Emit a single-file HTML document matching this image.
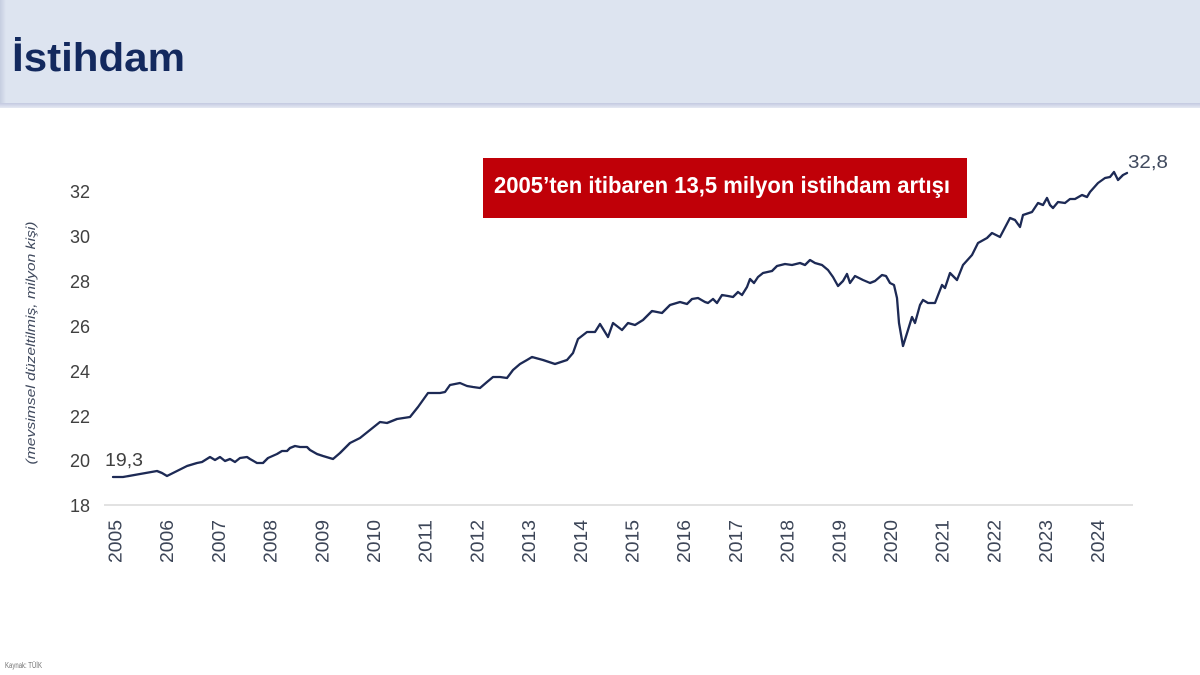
<!DOCTYPE html>
<html>
<head>
<meta charset="utf-8">
<style>
html,body{margin:0;padding:0;background:#fff;}
svg{display:block;}
</style>
</head>
<body>
<svg width="1200" height="675" viewBox="0 0 1200 675" xmlns="http://www.w3.org/2000/svg">
  <defs>
    <linearGradient id="hb" x1="0" y1="0" x2="0" y2="1">
      <stop offset="0" stop-color="#c2c9e0"/>
      <stop offset="1" stop-color="#e6e9f3"/>
    </linearGradient>
    <linearGradient id="lb" x1="0" y1="0" x2="1" y2="0">
      <stop offset="0" stop-color="#c5cde0"/>
      <stop offset="1" stop-color="#dde4f0"/>
    </linearGradient>
  </defs>
  <rect x="0" y="0" width="1200" height="675" fill="#ffffff"/>
  <!-- header -->
  <rect x="0" y="0" width="1200" height="104" fill="#dde4f0"/>
  <rect x="0" y="0" width="6" height="104" fill="url(#lb)"/>
  <rect x="0" y="103" width="1200" height="5" fill="url(#hb)"/>
  <text x="12" y="71" font-family="Liberation Sans, sans-serif" font-weight="bold" font-size="40" fill="#13295e" textLength="173" lengthAdjust="spacingAndGlyphs">İstihdam</text>

  <!-- y axis title -->
  <text transform="translate(35,343) rotate(-90)" text-anchor="middle" font-family="Liberation Sans, sans-serif" font-style="italic" font-size="12.5" fill="#404a5e" textLength="243" lengthAdjust="spacingAndGlyphs">(mevsimsel düzeltilmiş, milyon kişi)</text>

  <!-- y tick labels -->
  <g font-family="Liberation Sans, sans-serif" font-size="18" fill="#404040" text-anchor="end">
    <text x="90" y="198">32</text>
    <text x="90" y="243">30</text>
    <text x="90" y="288">28</text>
    <text x="90" y="333">26</text>
    <text x="90" y="378">24</text>
    <text x="90" y="423">22</text>
    <text x="90" y="467">20</text>
    <text x="90" y="512">18</text>
  </g>

  <!-- x axis line -->
  <line x1="104" y1="505" x2="1133" y2="505" stroke="#d9d9d9" stroke-width="1.5"/>

  <!-- x tick labels -->
  <g font-family="Liberation Sans, sans-serif" font-size="18" fill="#3d4658">
    <text transform="translate(121.5,563) rotate(-90)" textLength="43" lengthAdjust="spacingAndGlyphs">2005</text>
    <text transform="translate(173.2,563) rotate(-90)" textLength="43" lengthAdjust="spacingAndGlyphs">2006</text>
    <text transform="translate(224.9,563) rotate(-90)" textLength="43" lengthAdjust="spacingAndGlyphs">2007</text>
    <text transform="translate(276.6,563) rotate(-90)" textLength="43" lengthAdjust="spacingAndGlyphs">2008</text>
    <text transform="translate(328.3,563) rotate(-90)" textLength="43" lengthAdjust="spacingAndGlyphs">2009</text>
    <text transform="translate(380.0,563) rotate(-90)" textLength="43" lengthAdjust="spacingAndGlyphs">2010</text>
    <text transform="translate(431.7,563) rotate(-90)" textLength="43" lengthAdjust="spacingAndGlyphs">2011</text>
    <text transform="translate(483.4,563) rotate(-90)" textLength="43" lengthAdjust="spacingAndGlyphs">2012</text>
    <text transform="translate(535.1,563) rotate(-90)" textLength="43" lengthAdjust="spacingAndGlyphs">2013</text>
    <text transform="translate(586.8,563) rotate(-90)" textLength="43" lengthAdjust="spacingAndGlyphs">2014</text>
    <text transform="translate(638.5,563) rotate(-90)" textLength="43" lengthAdjust="spacingAndGlyphs">2015</text>
    <text transform="translate(690.2,563) rotate(-90)" textLength="43" lengthAdjust="spacingAndGlyphs">2016</text>
    <text transform="translate(741.9,563) rotate(-90)" textLength="43" lengthAdjust="spacingAndGlyphs">2017</text>
    <text transform="translate(793.6,563) rotate(-90)" textLength="43" lengthAdjust="spacingAndGlyphs">2018</text>
    <text transform="translate(845.3,563) rotate(-90)" textLength="43" lengthAdjust="spacingAndGlyphs">2019</text>
    <text transform="translate(897.0,563) rotate(-90)" textLength="43" lengthAdjust="spacingAndGlyphs">2020</text>
    <text transform="translate(948.7,563) rotate(-90)" textLength="43" lengthAdjust="spacingAndGlyphs">2021</text>
    <text transform="translate(1000.4,563) rotate(-90)" textLength="43" lengthAdjust="spacingAndGlyphs">2022</text>
    <text transform="translate(1052.1,563) rotate(-90)" textLength="43" lengthAdjust="spacingAndGlyphs">2023</text>
    <text transform="translate(1103.8,563) rotate(-90)" textLength="43" lengthAdjust="spacingAndGlyphs">2024</text>
  </g>

  <!-- series -->
  <polyline fill="none" stroke="#1d2a55" stroke-width="2.3" stroke-linejoin="round" stroke-linecap="round"
    points="113,477 123,477 140,474 157,471 162,473 167,476 177,471 187,466 197,463 202,462 210,457 215,460 220,457 225,461 230,459 235,462 240,458 247,457 250,459 257,463 263,463 268,458 277,454 282,451 287,451 290,448 295,446 300,447 307,447 310,450 317,454 323,456 333,459 340,453 350,443 360,438 370,430 380,422 387,423 397,419 410,417 418,407 428,393 440,393 445,392 450,385 460,383 467,386 473,387 480,388 487,382 493,377 500,377 507,378 513,370 520,364 527,360 532,357 543,360 555,364 567,360 573,353 578,339 587,332 595,332 600,324 608,337 613,323 622,330 628,323 635,325 643,320 652,311 662,313 670,305 680,302 687,304 692,299 698,298 705,302 708,303 713,299 717,303 722,295 728,296 733,297 738,292 742,295 747,287 750,279 754,283 758,277 763,273 772,271 777,266 785,264 792,265 800,263 805,265 810,260 815,263 822,265 828,270 833,277 838,286 843,281 847,274 850,283 855,276 863,280 870,283 875,281 882,275 886,276 890,283 894,285 897,298 899,323 903,346 908,330 912,317 915,323 920,305 923,300 928,303 935,303 942,285 945,288 950,273 957,280 963,265 972,255 978,243 987,238 992,233 1000,237 1010,218 1015,220 1020,227 1023,215 1032,212 1038,203 1043,205 1047,198 1050,205 1053,208 1058,202 1065,203 1070,199 1075,199 1082,195 1087,197 1090,192 1098,183 1105,178 1110,177 1114,172 1118,180 1123,175 1127,173"/>

  <!-- data labels -->
  <text x="105" y="466" font-family="Liberation Sans, sans-serif" font-size="18" fill="#404040" textLength="38" lengthAdjust="spacingAndGlyphs">19,3</text>
  <text x="1128" y="168" font-family="Liberation Sans, sans-serif" font-size="18" fill="#404a5e" textLength="40" lengthAdjust="spacingAndGlyphs">32,8</text>

  <!-- red callout -->
  <rect x="483" y="158" width="484" height="60" fill="#c00008"/>
  <text x="722" y="193" text-anchor="middle" font-family="Liberation Sans, sans-serif" font-weight="bold" font-size="23" fill="#ffffff" textLength="456" lengthAdjust="spacingAndGlyphs">2005’ten itibaren 13,5 milyon istihdam artışı</text>

  <!-- source -->
  <text x="5" y="668" font-family="Liberation Sans, sans-serif" font-size="8" fill="#707070" textLength="37" lengthAdjust="spacingAndGlyphs">Kaynak: TÜİK</text>
</svg>
</body>
</html>
